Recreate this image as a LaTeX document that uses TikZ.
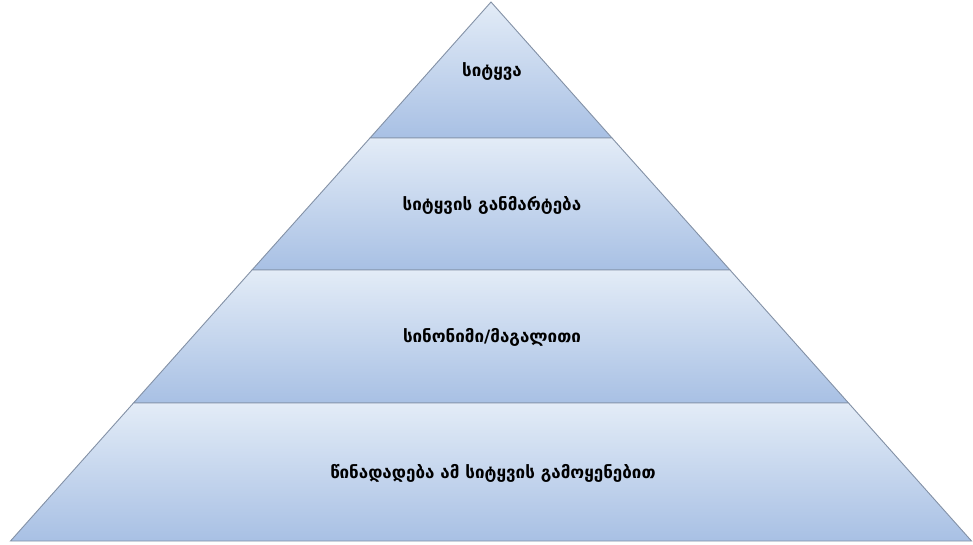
\documentclass[tikz,border=0pt]{standalone}
\usepackage{fontspec}
\newfontfamily\geofont{DejaVu Sans}
\definecolor{bandtop}{HTML}{E3ECF7}
\definecolor{bandbottom}{HTML}{A8C0E4}
\definecolor{bandedge}{HTML}{8391A6}

\begin{document}
\begin{tikzpicture}
  [x=1pt,y=-1pt,
  band/.style={draw=bandedge, line width=0.9pt, line join=miter,
    top color=bandtop, bottom color=bandbottom},
  caption/.style={font=\geofont\bfseries\fontsize{17}{20}\selectfont,
    text=black, inner sep=0pt}]
  \useasboundingbox (0,0) rectangle (973,544);
  % levels of the pyramid
  \path [band] (491,2) -- (612,138) -- (370,138) -- cycle;
  \path [band] (370,138) -- (612,138) -- (730,270) -- (252,270) -- cycle;
  \path [band] (252,270) -- (730,270) -- (848.5,403) -- (133.5,403) -- cycle;
  \path [band] (133.5,403) -- (848.5,403) -- (971.5,541) -- (10.5,541) -- cycle;
  % captions
  \node [caption] (word) at (492,72) {სიტყვა};
  \node [caption] (meaning) at (492,205) {სიტყვის განმარტება};
  \node [caption] (synonym) at (492,337) {სინონიმი/მაგალითი};
  \node [caption] (sentence) at (493,473) {წინადადება ამ სიტყვის გამოყენებით};
\end{tikzpicture}
\end{document}
